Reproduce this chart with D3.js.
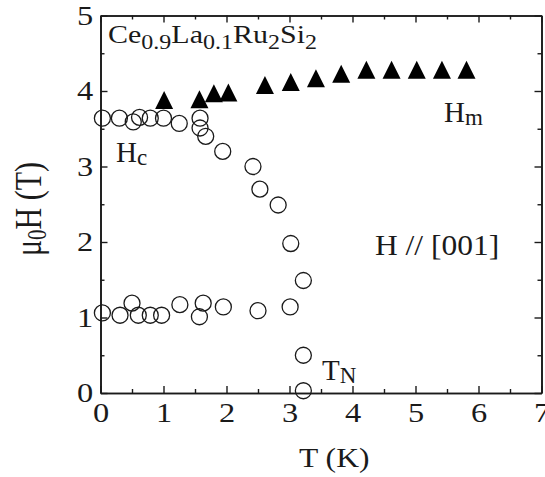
<!DOCTYPE html>
<html>
<head>
<meta charset="utf-8">
<script src="https://cdn.jsdelivr.net/npm/d3@7"></script>
<style>
  html, body { margin: 0; padding: 0; background: #fff; }
  svg { display: block; font-family: "Liberation Serif", "Times New Roman", serif; }
</style>
</head>
<body>
<script>
;(() => {
    var width = 545, height = 477;

    // open circles, upper branch (Hc)
    var hcTemp  = [0.03, 0.30, 0.52, 0.62, 0.79, 1.00, 1.25, 1.58, 1.58, 1.67, 1.94, 2.42, 2.53, 2.82, 3.02, 3.22];
    var hcField = [3.64, 3.64, 3.59, 3.65, 3.64, 3.64, 3.57, 3.64, 3.51, 3.40, 3.20, 3.00, 2.70, 2.49, 1.98, 1.49];
    // open circles, lower branch
    var lowTemp  = [0.03, 0.31, 0.50, 0.60, 0.79, 0.97, 1.26, 1.57, 1.63, 1.95, 2.50, 3.01];
    var lowField = [1.06, 1.03, 1.19, 1.03, 1.03, 1.03, 1.17, 1.01, 1.19, 1.14, 1.09, 1.14];
    // open circles near TN
    var tnTemp  = [3.22, 3.22];
    var tnField = [0.50, 0.03];
    // filled triangles (Hm)
    var hmTemp  = [1.01, 1.57, 1.80, 2.03, 2.61, 3.02, 3.42, 3.82, 4.22, 4.62, 5.02, 5.42, 5.81];
    var hmField = [3.88, 3.89, 3.97, 3.98, 4.08, 4.12, 4.17, 4.23, 4.28, 4.28, 4.28, 4.28, 4.28];

    var xMajor = [0, 1, 2, 3, 4, 5, 6, 7],
        xMinor = [0.5, 1.5, 2.5, 3.5, 4.5, 5.5, 6.5],
        yMajor = [0, 1, 2, 3, 4, 5],
        yMinor = [0.5, 1.5, 2.5, 3.5, 4.5];

    var left = 100.5, right = 541.5, top = 15.5, bottom = 393;
    var ink = '#1a1a1a';

    var x = d3.scaleLinear().domain([0, 7]).range([left, right]),
        y = d3.scaleLinear().domain([0, 5]).range([bottom, top]);

    var svg = d3.select('body')
        .append('svg')
        .attr('width', width)
        .attr('height', height);

    // axes, ticks inward
    function axisGroup(axis, tr) {
        var g = svg.append('g').attr('transform', tr).call(axis);
        g.select('.domain').attr('stroke', ink).attr('stroke-width', 1.6);
        g.selectAll('.tick line').attr('stroke', ink).attr('stroke-width', 1.4);
        return g;
    }

    var fmt = d3.format('d');

    var gx = axisGroup(d3.axisBottom(x).tickValues(xMajor).tickFormat(fmt).tickSize(-7).tickPadding(10).tickSizeOuter(0),
        'translate(0,' + bottom + ')');
    axisGroup(d3.axisBottom(x).tickValues(xMinor).tickSize(-4).tickFormat('').tickSizeOuter(0),
        'translate(0,' + bottom + ')');
    axisGroup(d3.axisTop(x).tickValues(xMajor).tickSize(-7).tickFormat('').tickSizeOuter(0),
        'translate(0,' + top + ')');
    axisGroup(d3.axisTop(x).tickValues(xMinor).tickSize(-4).tickFormat('').tickSizeOuter(0),
        'translate(0,' + top + ')');

    var gy = axisGroup(d3.axisLeft(y).tickValues(yMajor).tickFormat(fmt).tickSize(-7).tickPadding(6).tickSizeOuter(0),
        'translate(' + left + ',0)');
    axisGroup(d3.axisLeft(y).tickValues(yMinor).tickSize(-4).tickFormat('').tickSizeOuter(0),
        'translate(' + left + ',0)');
    axisGroup(d3.axisRight(y).tickValues(yMajor).tickSize(-7).tickFormat('').tickSizeOuter(0),
        'translate(' + right + ',0)');
    axisGroup(d3.axisRight(y).tickValues(yMinor).tickSize(-4).tickFormat('').tickSizeOuter(0),
        'translate(' + right + ',0)');

    svg.selectAll('.tick text')
        .attr('font-family', '"Liberation Serif", serif')
        .attr('font-size', 27)
        .attr('fill', ink)
        .attr('transform', 'scale(1.2,1)');

    // markers
    var circles = svg.append('g')
        .attr('fill', 'none')
        .attr('stroke', ink)
        .attr('stroke-width', 1.3);

    function openCircles(ts, hs) {
        circles.selectAll(null)
            .data(ts.map((t, i) => ({ t: t, h: hs[i] })))
            .enter()
            .append('circle')
            .attr('cx', d => x(d.t))
            .attr('cy', d => y(d.h))
            .attr('r', 8);
    }
    openCircles(hcTemp, hcField);
    openCircles(lowTemp, lowField);
    openCircles(tnTemp, tnField);

    // tall triangle, centred on its box
    var tri = {
        draw: function (ctx, size) {
            var w = Math.sqrt(size) / 2;
            ctx.moveTo(0, -w);
            ctx.lineTo(w, w);
            ctx.lineTo(-w, w);
            ctx.closePath();
        }
    };
    svg.append('g')
        .selectAll('path')
        .data(hmTemp.map((t, i) => ({ t: t, h: hmField[i] })))
        .enter()
        .append('path')
        .attr('d', d3.symbol().type(tri).size(18 * 18))
        .attr('transform', d => 'translate(' + x(d.t) + ',' + y(d.h) + ')')
        .attr('fill', '#000');

    // texts
    function label(px, py, parts, size, sx, rot) {
        var tr = 'translate(' + px + ',' + py + ')' + (rot ? ' rotate(-90) scale(1,' + sx + ')' : ' scale(' + sx + ',1)');
        var t = svg.append('text')
            .attr('transform', tr)
            .attr('font-size', size)
            .attr('fill', ink);
        if (rot) t.attr('text-anchor', 'middle');
        parts.forEach(p => {
            t.append('tspan')
                .attr('font-size', p.size || size)
                .attr('dy', p.dy || 0)
                .text(p.s);
        });
        return t;
    }

    label(108, 43, [
        { s: 'Ce' }, { s: '0.9', size: 20, dy: 6 },
        { s: 'La', dy: -6 }, { s: '0.1', size: 20, dy: 6 },
        { s: 'Ru', dy: -6 }, { s: '2', size: 20, dy: 6 },
        { s: 'Si', dy: -6 }, { s: '2', size: 20, dy: 6 }
    ], 25, 1.2);

    label(116, 162, [{ s: 'H' }, { s: 'c', size: 23, dy: 3 }], 29, 1.0);
    label(444, 122, [{ s: 'H' }, { s: 'm', size: 23, dy: 3 }], 29, 1.0);
    label(322, 380, [{ s: 'T' }, { s: 'N', size: 23, dy: 3 }], 29, 1.0);
    label(375, 255, [{ s: 'H // [001]' }], 30, 1.05);
    label(299, 467, [{ s: 'T (K)' }], 27, 1.17);
    label(41, 209, [{ s: 'μ' }, { s: '0', size: 21, dy: 4 }, { s: 'H (T)', dy: -4 }], 30, 1.25, true);
})();
</script>
</body>
</html>
